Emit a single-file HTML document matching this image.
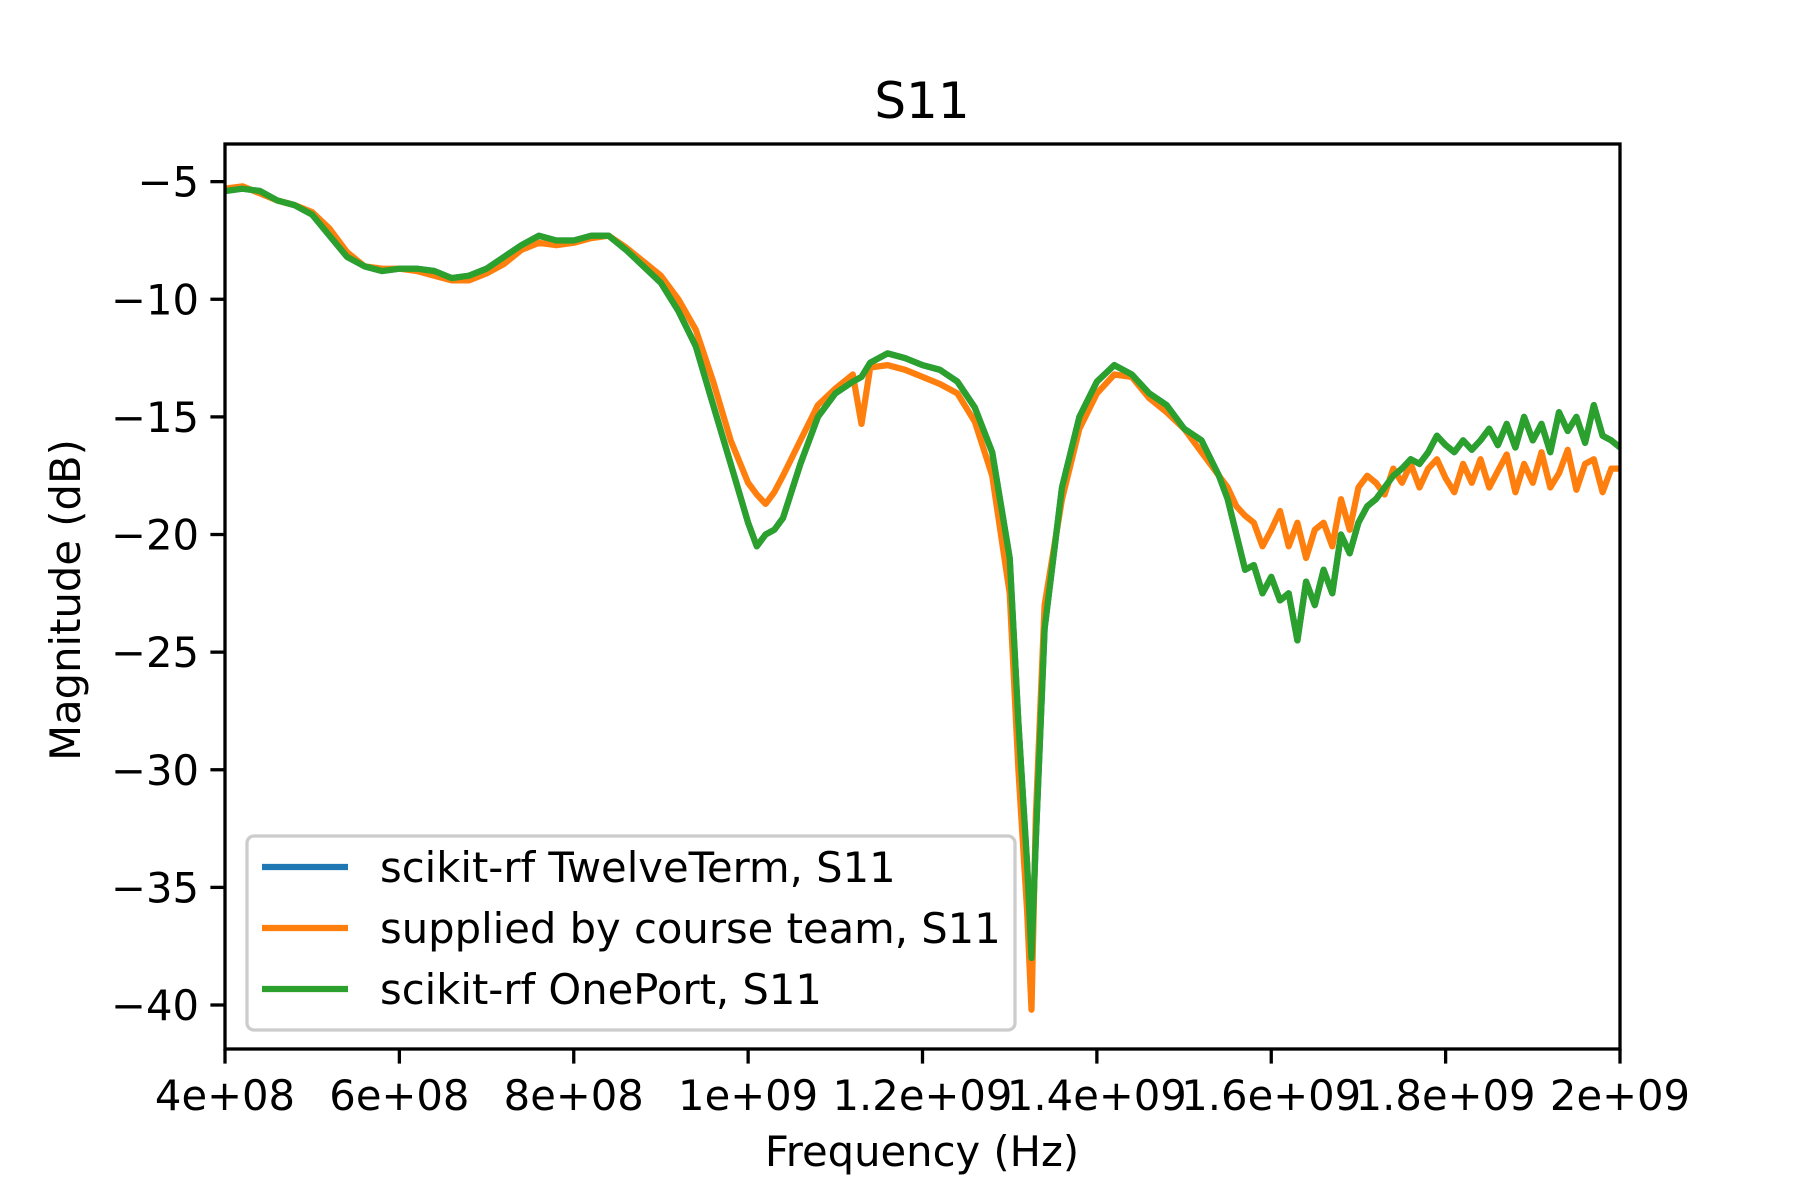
<!DOCTYPE html>
<html><head><meta charset="utf-8"><style>
html,body{margin:0;padding:0;background:#fff}
svg{display:block;font-family:"DejaVu Sans","Liberation Sans",sans-serif}
</style></head><body>
<svg id="chart" width="1800" height="1200" viewBox="0 0 1800 1200">
<rect width="1800" height="1200" fill="#fff"/>
<text x="922" y="118" font-size="50" text-anchor="middle">S11</text>
<g id="plot"></g>
<g id="axes"></g>
<text x="922" y="1166" font-size="41.7" text-anchor="middle">Frequency (Hz)</text>
<text transform="translate(80,600) rotate(-90)" font-size="41.7" text-anchor="middle">Magnitude (dB)</text>
<g>
<rect x="247" y="836" width="768" height="194" rx="7" fill="#fff" fill-opacity="0.8" stroke="#ccc" stroke-width="3.3"/>
<line x1="262" y1="867" x2="348" y2="867" stroke="#1f77b4" stroke-width="6.25"/>
<text x="380" y="882" font-size="41.7">scikit-rf TwelveTerm, S11</text>
<line x1="262" y1="928" x2="348" y2="928" stroke="#ff7f0e" stroke-width="6.25"/>
<text x="380" y="943" font-size="41.7">supplied by course team, S11</text>
<line x1="262" y1="989" x2="348" y2="989" stroke="#2ca02c" stroke-width="6.25"/>
<text x="380" y="1004" font-size="41.7">scikit-rf OnePort, S11</text>
</g>
</svg>
<script>
const freqGHz = [0.40,0.42,0.44,0.46,0.48,0.50,0.52,0.54,0.56,0.58,0.60,0.62,0.64,0.66,0.68,0.70,0.72,0.74,0.76,0.78,0.80,0.82,0.84,0.86,0.88,0.90,0.92,0.94,0.96,0.98,1.00,1.01,1.02,1.03,1.04,1.06,1.08,1.10,1.12,1.13,1.14,1.16,1.18,1.20,1.22,1.24,1.26,1.28,1.30,1.31,1.32,1.325,1.33,1.34,1.36,1.38,1.40,1.42,1.44,1.46,1.48,1.50,1.52,1.54,1.55,1.56,1.57,1.58,1.59,1.60,1.61,1.62,1.63,1.64,1.65,1.66,1.67,1.68,1.69,1.70,1.71,1.72,1.73,1.74,1.75,1.76,1.77,1.78,1.79,1.80,1.81,1.82,1.83,1.84,1.85,1.86,1.87,1.88,1.89,1.90,1.91,1.92,1.93,1.94,1.95,1.96,1.97,1.98,1.99,2.00];
const courseTeamDb = [-5.3,-5.2,-5.5,-5.8,-6.0,-6.3,-7.0,-8.0,-8.6,-8.7,-8.7,-8.8,-9.0,-9.2,-9.2,-8.9,-8.5,-7.9,-7.6,-7.7,-7.6,-7.4,-7.3,-7.8,-8.4,-9.0,-10.0,-11.3,-13.5,-16.0,-17.8,-18.3,-18.7,-18.2,-17.5,-16.0,-14.5,-13.8,-13.2,-15.3,-12.9,-12.8,-13.0,-13.3,-13.6,-14.0,-15.2,-17.5,-22.5,-30,-36,-40.2,-32,-23,-18.5,-15.5,-14.0,-13.2,-13.3,-14.2,-14.8,-15.5,-16.5,-17.5,-18.0,-18.8,-19.2,-19.5,-20.5,-19.8,-19.0,-20.5,-19.5,-21.0,-19.8,-19.5,-20.5,-18.5,-19.8,-18.0,-17.5,-17.8,-18.3,-17.2,-17.8,-17.0,-18.0,-17.2,-16.8,-17.6,-18.2,-17.0,-17.8,-16.8,-18.0,-17.3,-16.6,-18.2,-17.0,-17.8,-16.5,-18.0,-17.4,-16.4,-18.1,-17.0,-16.8,-18.2,-17.2,-17.2];
const onePortDb = [-5.4,-5.3,-5.4,-5.8,-6.0,-6.4,-7.3,-8.2,-8.6,-8.8,-8.7,-8.7,-8.8,-9.1,-9.0,-8.7,-8.2,-7.7,-7.3,-7.5,-7.5,-7.3,-7.3,-7.9,-8.6,-9.3,-10.5,-12.0,-14.5,-17.0,-19.5,-20.5,-20.0,-19.8,-19.3,-17.0,-15.0,-14.0,-13.5,-13.3,-12.7,-12.3,-12.5,-12.8,-13.0,-13.5,-14.6,-16.5,-21,-28,-34,-38,-33,-24,-18,-15,-13.5,-12.8,-13.2,-14.0,-14.5,-15.5,-16.0,-17.5,-18.5,-20.0,-21.5,-21.3,-22.5,-21.8,-22.8,-22.5,-24.5,-22.0,-23.0,-21.5,-22.5,-20.0,-20.8,-19.5,-18.8,-18.5,-18.0,-17.5,-17.2,-16.8,-17.0,-16.5,-15.8,-16.2,-16.5,-16.0,-16.4,-16.0,-15.5,-16.2,-15.3,-16.3,-15.0,-16.0,-15.3,-16.5,-14.8,-15.6,-15.0,-16.1,-14.5,-15.8,-16.0,-16.3];
const twelveTermDb = onePortDb.slice();
const yTicks = [-5,-10,-15,-20,-25,-30,-35,-40];
const yTickLabels = ["\u22125","\u221210","\u221215","\u221220","\u221225","\u221230","\u221235","\u221240"];
const xTicks = [0.4,0.6,0.8,1.0,1.2,1.4,1.6,1.8,2.0];
const xTickLabels = ["4e+08","6e+08","8e+08","1e+09","1.2e+09","1.4e+09","1.6e+09","1.8e+09","2e+09"];

const L=225,R=1620,T=144,B=1049;
const xMin=0.4,xMax=2.0,yTop=-3.4,yBot=-41.87;
const sx=v=>L+(v-xMin)/(xMax-xMin)*(R-L);
const sy=v=>T+(yTop-v)/(yTop-yBot)*(B-T);
const NS="http://www.w3.org/2000/svg";
const plot=document.getElementById('plot');
const axes=document.getElementById('axes');

const cp=document.createElementNS(NS,'clipPath');cp.setAttribute('id','clip');
const cr=document.createElementNS(NS,'rect');
cr.setAttribute('x',L);cr.setAttribute('y',T);cr.setAttribute('width',R-L);cr.setAttribute('height',B-T);
cp.appendChild(cr);plot.appendChild(cp);

function series(vals,color,name){
  const p=document.createElementNS(NS,'path');
  p.setAttribute('d',vals.map((v,i)=>(i?'L':'M')+sx(freqGHz[i]).toFixed(1)+','+sy(v).toFixed(1)).join(''));
  p.setAttribute('fill','none');p.setAttribute('stroke',color);p.setAttribute('stroke-width','6.25');
  p.setAttribute('stroke-linejoin','round');p.setAttribute('clip-path','url(#clip)');
  
  
  plot.appendChild(p);
}
series(twelveTermDb,'#1f77b4','series-twelveterm');
series(courseTeamDb,'#ff7f0e','series-course-team');
series(onePortDb,'#2ca02c','series-oneport');

const frame=document.createElementNS(NS,'rect');
frame.setAttribute('x',L);frame.setAttribute('y',T);frame.setAttribute('width',R-L);frame.setAttribute('height',B-T);
frame.setAttribute('fill','none');frame.setAttribute('stroke','#000');frame.setAttribute('stroke-width','3.3');


axes.appendChild(frame);

yTicks.forEach((v,i)=>{
  const y=sy(v);
  const t=document.createElementNS(NS,'line');
  t.setAttribute('x1',L-14.6);t.setAttribute('x2',L);t.setAttribute('y1',y);t.setAttribute('y2',y);
  t.setAttribute('stroke','#000');t.setAttribute('stroke-width','3.3');
  
  
  axes.appendChild(t);
  const tx=document.createElementNS(NS,'text');
  tx.setAttribute('x',L-26);tx.setAttribute('y',y+15);tx.setAttribute('font-size','41.7');tx.setAttribute('text-anchor','end');
  tx.textContent=yTickLabels[i];
  
  
  axes.appendChild(tx);
});
xTicks.forEach((v,i)=>{
  const x=sx(v);
  const t=document.createElementNS(NS,'line');
  t.setAttribute('x1',x);t.setAttribute('x2',x);t.setAttribute('y1',B);t.setAttribute('y2',B+14.6);
  t.setAttribute('stroke','#000');t.setAttribute('stroke-width','3.3');
  
  
  axes.appendChild(t);
  const tx=document.createElementNS(NS,'text');
  tx.setAttribute('x',x);tx.setAttribute('y',B+61);tx.setAttribute('font-size','41.7');tx.setAttribute('text-anchor','middle');
  tx.textContent=xTickLabels[i];
  
  
  axes.appendChild(tx);
});
</script>
</body></html>
